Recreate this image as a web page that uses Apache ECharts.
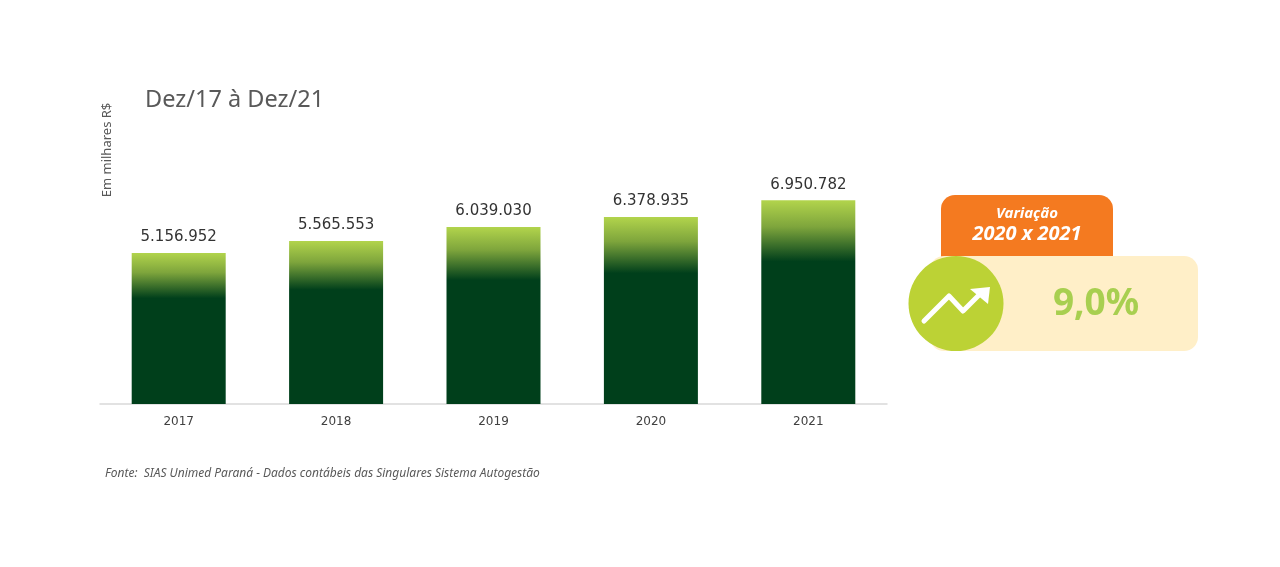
<!DOCTYPE html>
<html lang="pt">
<head>
<meta charset="UTF-8">
<title>Dez/17 à Dez/21</title>
<script src="https://cdn.jsdelivr.net/npm/echarts@6/dist/echarts.min.js"></script>
<style>
  html, body { margin: 0; padding: 0; background: #fff; }
  #chart { width: 1280px; height: 567px; }
</style>
</head>
<body>
<div id="chart"></div>
<script>
  // dados (em milhares R$)
  var anos = ['2017', '2018', '2019', '2020', '2021'];
  var valores = [5156952, 5565553, 6039030, 6378935, 6950782];
  var variacao = '9,0%';
  var periodoVariacao = '2020 x 2021';

  function fmt(v) {
    return String(v).replace(/\B(?=(\d{3})+(?!\d))/g, '.');
  }

  var myChart = echarts.init(document.getElementById('chart'));

  var barColor = new echarts.graphic.LinearGradient(0, 0, 0, 1, [
    { offset: 0, color: '#b2d44c' },
    { offset: 0.13, color: '#7ea53c' },
    { offset: 0.3, color: '#003f1b' },
    { offset: 1, color: '#003f1b' }
  ]);

  var option = {
    animation: false,
    title: {
      text: 'Dez/17 à Dez/21',
      left: 140,
      top: 83,
      textStyle: { fontFamily: 'Noto Sans', fontSize: 23.5, fontWeight: 'normal', color: '#595959' }
    },
    grid: { left: 100, right: 393, top: 111, bottom: 163 },
    xAxis: {
      type: 'category',
      data: anos,
      axisLine: { lineStyle: { color: '#d9d9d9', width: 1.5 } },
      axisTick: { show: false },
      axisLabel: { fontFamily: 'DejaVu Sans', fontSize: 12, color: '#404040', margin: 12 }
    },
    yAxis: {
      type: 'value',
      min: 0,
      max: 10000000,
      show: false
    },
    series: [{
      type: 'bar',
      data: valores,
      barWidth: 94,
      itemStyle: { color: barColor },
      label: {
        show: true,
        position: 'top',
        distance: 8,
        fontFamily: 'DejaVu Sans',
        fontSize: 15,
        color: '#333333',
        formatter: function (p) { return fmt(p.value); }
      }
    }],
    graphic: [
      {
        type: 'text',
        x: 107, y: 150,
        rotation: Math.PI / 2,
        style: {
          text: 'Em milhares R$',
          fontFamily: 'Noto Sans', fontSize: 13, fill: '#595959',
          textAlign: 'center', textVerticalAlign: 'middle'
        }
      },
      {
        type: 'text',
        x: 105, y: 474,
        style: {
          text: 'Fonte:  SIAS Unimed Paraná - Dados contábeis das Singulares Sistema Autogestão',
          fontFamily: 'Noto Sans', fontStyle: 'italic', fontSize: 12, fill: '#595959',
          textVerticalAlign: 'middle'
        }
      },
      // caixa de variação
      {
        type: 'rect',
        shape: { x: 941, y: 195, width: 172, height: 80, r: [14, 14, 0, 0] },
        style: { fill: '#f47a20' }
      },
      {
        type: 'text',
        x: 1027, y: 214,
        style: {
          text: 'Variação', fontFamily: 'Noto Sans', fontStyle: 'italic', fontWeight: 'bold',
          fontSize: 15, fill: '#fff', textAlign: 'center', textVerticalAlign: 'middle'
        }
      },
      {
        type: 'text',
        x: 1027, y: 234,
        style: {
          text: periodoVariacao, fontFamily: 'Noto Sans', fontStyle: 'italic', fontWeight: 'bold',
          fontSize: 20, fill: '#fff', textAlign: 'center', textVerticalAlign: 'middle'
        }
      },
      {
        type: 'rect',
        shape: { x: 930, y: 256, width: 268, height: 95, r: 14 },
        style: { fill: '#ffefc8' }
      },
      {
        type: 'circle',
        shape: { cx: 956, cy: 303.5, r: 47.5 },
        style: { fill: '#bcd235' }
      },
      {
        type: 'polyline',
        shape: { points: [[924, 321], [949, 296], [963, 311], [982, 292]] },
        style: { stroke: '#fff', lineWidth: 5, lineCap: 'round', lineJoin: 'round', fill: null }
      },
      {
        type: 'polygon',
        shape: { points: [[970, 289], [990, 287], [988, 304]] },
        style: { fill: '#fff' }
      },
      {
        type: 'text',
        x: 1096, y: 304,
        style: {
          text: variacao, fontFamily: 'Noto Sans', fontWeight: 'bold', fontSize: 37,
          fill: '#a8cf50', textAlign: 'center', textVerticalAlign: 'middle'
        }
      }
    ]
  };

  myChart.setOption(option);
</script>
</body>
</html>
